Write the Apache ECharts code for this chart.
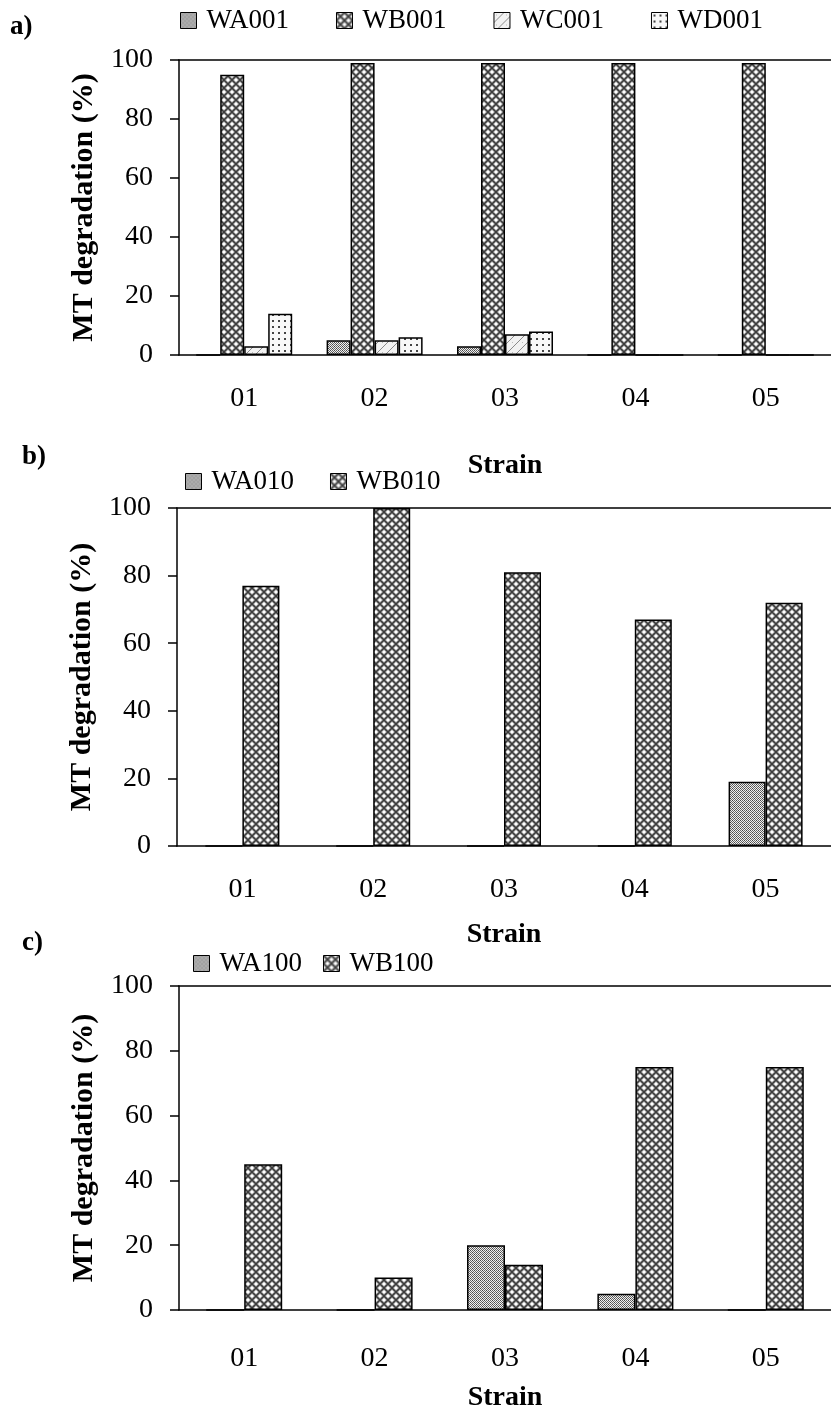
<!DOCTYPE html>
<html><head><meta charset="utf-8">
<script src="https://cdn.jsdelivr.net/npm/echarts@6/dist/echarts.min.js"></script>
<style>html,body{margin:0;padding:0;background:#fff}#c{width:831px;height:1421px}</style>
</head><body><div id="c"></div>
<script>
const categories = ['01','02','03','04','05'];
const seriesNamesA = ['WA001','WB001','WC001','WD001'];
const a_WA001 = [0, 5, 3, 0, 0];
const a_WB001 = [95, 99, 99, 99, 99];
const a_WC001 = [3, 5, 7, 0, 0];
const a_WD001 = [14, 6, 8, 0, 0];
const seriesNamesB = ['WA010','WB010'];
const b_WA010 = [0, 0, 0, 0, 19];
const b_WB010 = [77, 100, 81, 67, 72];
const seriesNamesC = ['WA100','WB100'];
const c_WA100 = [0, 0, 20, 5, 0];
const c_WB100 = [45, 10, 14, 75, 75];
const yMin = 0, yMax = 100, yStep = 20;

function mk(w, h, draw){const c=document.createElement('canvas');c.width=w;c.height=h;const g=c.getContext('2d');draw(g);return {image:c,repeat:'repeat'};}
const patWA = mk(4,4,g=>{g.fillStyle='#f0f0f0';g.fillRect(0,0,4,4);g.fillStyle='#666';for(let y=0;y<4;y++)for(let x=0;x<4;x++)if((x+y)%2===0)g.fillRect(x,y,1,1);g.fillStyle='#444';g.fillRect(0,0,1,1);g.fillRect(2,2,1,1);});
const patWB = mk(8,8,g=>{g.fillStyle='#d0d0d0';g.fillRect(0,0,8,8);g.strokeStyle='#3c3c3c';g.lineWidth=1.6;g.beginPath();g.moveTo(0,0);g.lineTo(8,8);g.moveTo(8,0);g.lineTo(0,8);g.stroke();g.fillStyle='#ffffff';g.fillRect(3,0,2,1);g.fillRect(0,3,1,2);g.fillRect(7,3,1,2);g.fillRect(3,7,2,1);});
const patWC = mk(10,10,g=>{g.fillStyle='#f2f2f2';g.fillRect(0,0,10,10);g.strokeStyle='#8a8a8a';g.lineWidth=1;g.beginPath();g.moveTo(0,10);g.lineTo(10,0);g.stroke();g.fillStyle='#bbb';g.fillRect(2,2,1,1);});
const patWD = mk(6,6,g=>{g.fillStyle='#f8f8f8';g.fillRect(0,0,6,6);g.fillStyle='#444';g.fillRect(2,2,2,2);});

const FONT = 'Liberation Serif';
const grids = [
  {left:179, top:60, height:295, right:0},
  {left:177, top:508, height:338, right:0},
  {left:179, top:986, height:324, right:0}
];
const labelMargins = [30, 30, 35];
const strainGaps = [97, 75, 74];
const xAxes = [], yAxes = [];
grids.forEach((g,i)=>{
  xAxes.push({type:'category', gridIndex:i, data:categories, name:'Strain', nameLocation:'middle', nameGap: strainGaps[i],
    nameTextStyle:{fontFamily:FONT,fontWeight:'bold',fontSize:28,color:'#000'},
    axisLine:{lineStyle:{color:'#000',width:1.5}}, axisTick:{length:9,lineStyle:{color:'#000',width:1.5}},
    axisLabel:{fontFamily:FONT,fontSize:28,color:'#000',margin:labelMargins[i]}});
  xAxes.push({type:'value', gridIndex:i, position:'top', min:0, max:1, axisLine:{show:true,onZero:false,lineStyle:{color:'#000',width:1.5}},
    axisTick:{show:false}, axisLabel:{show:false}, splitLine:{show:false}});
  yAxes.push({type:'value', gridIndex:i, min:yMin, max:yMax, interval:yStep, name:'MT degradation (%)', nameLocation:'middle', nameGap:80,
    nameTextStyle:{fontFamily:FONT,fontWeight:'bold',fontSize:30,color:'#000'},
    axisLine:{show:true,lineStyle:{color:'#000',width:1.5}}, axisTick:{show:true,length:9,lineStyle:{color:'#000',width:1.5}},
    axisLabel:{fontFamily:FONT,fontSize:28,color:'#000',margin:26}, splitLine:{show:false}});
});
function bar(name, data, gi, pat, w){
  return {type:'bar', name, data, xAxisIndex:gi*2, yAxisIndex:gi, barWidth:w, barGap:'0%',
    itemStyle:{color:pat, borderColor:'#000', borderWidth:1.5}, emphasis:{disabled:true}};
}
const series = [
  bar(seriesNamesA[0], a_WA001, 0, patWA, 24),
  bar(seriesNamesA[1], a_WB001, 0, patWB, 24),
  bar(seriesNamesA[2], a_WC001, 0, patWC, 24),
  bar(seriesNamesA[3], a_WD001, 0, patWD, 24),
  bar(seriesNamesB[0], b_WA010, 1, patWA, 37),
  bar(seriesNamesB[1], b_WB010, 1, patWB, 37),
  bar(seriesNamesC[0], c_WA100, 2, patWA, 38),
  bar(seriesNamesC[1], c_WB100, 2, patWB, 38)
];
const legStyle = {fontFamily:FONT,fontSize:27,color:'#000',padding:[0,0,0,5]};
function leg(data, left, top, gap){
  return {data, left, top, itemWidth:16, itemHeight:16, itemGap:gap, icon:'rect', textStyle:legStyle, padding:0,
    itemStyle:{borderColor:'#000',borderWidth:1}, selectedMode:false};
}
const titleStyle = {fontFamily:FONT,fontWeight:'bold',fontSize:27,color:'#000'};
const chart = echarts.init(document.getElementById('c'), null, {renderer:'canvas'});
chart.setOption({
  backgroundColor:'#ffffff',
  animation:false,
  title:[
    {text:'a)', left:10, top:14, textStyle:titleStyle, padding:0},
    {text:'b)', left:22, top:444, textStyle:titleStyle, padding:0},
    {text:'c)', left:22, top:930, textStyle:titleStyle, padding:0}
  ],
  legend:[
    leg(seriesNamesA, 180, 7, 47),
    leg(seriesNamesB, 185, 468, 36),
    leg(seriesNamesC, 193, 950, 21)
  ],
  grid:grids, xAxis:xAxes, yAxis:yAxes, series
});
</script></body></html>
